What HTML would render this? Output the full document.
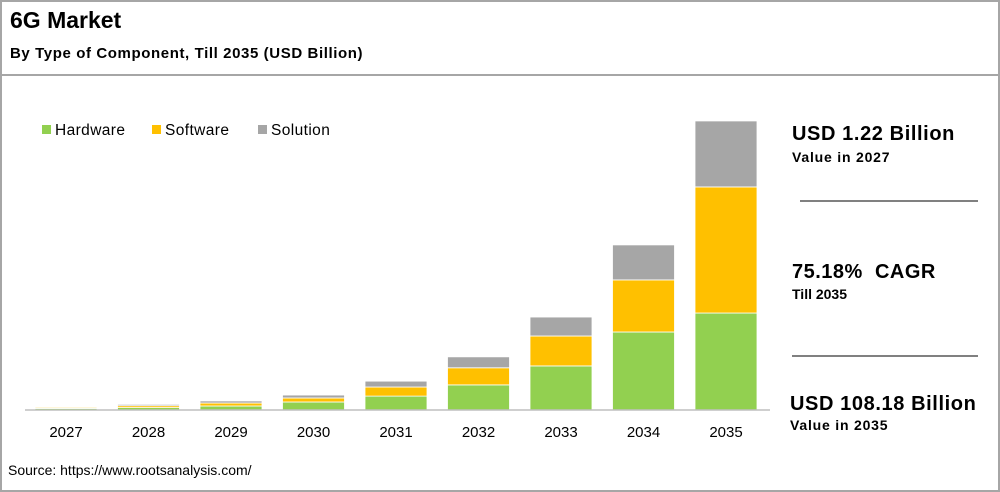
<!DOCTYPE html>
<html><head><meta charset="utf-8"><style>
body{margin:0;width:1000px;height:492px;background:#fff;font-family:"Liberation Sans",Arial,sans-serif;overflow:hidden}
.frame{position:absolute;left:0;top:0;width:996px;height:488px;border:2px solid #a6a6a6}
.t{position:absolute;color:#000;white-space:nowrap}
</style></head><body>
<div class="frame"></div>
<div class="t" style="left:10px;top:7px;font-size:23px;font-weight:bold">6G Market</div>
<div class="t" style="left:10px;top:45px;font-size:15px;font-weight:bold;letter-spacing:0.6px">By Type of Component, Till 2035 (USD Billion)</div>
<div style="position:absolute;left:2px;top:74px;width:996px;height:2px;background:#a6a6a6"></div>
<svg id="chart" width="1000" height="492" style="position:absolute;left:0;top:0"></svg>
<div class="t" style="left:792px;top:123px;font-size:20px;font-weight:bold;letter-spacing:0.6px">USD 1.22 Billion</div>
<div class="t" style="left:792px;top:149px;font-size:14px;font-weight:bold;letter-spacing:0.8px">Value in 2027</div>
<div style="position:absolute;left:800px;top:200px;width:178px;height:2px;background:#808080"></div>
<div class="t" style="left:792px;top:261px;font-size:20px;font-weight:bold;letter-spacing:0.5px">75.18%&nbsp; CAGR</div>
<div class="t" style="left:792px;top:286px;font-size:14px;font-weight:bold">Till 2035</div>
<div style="position:absolute;left:792px;top:355px;width:186px;height:2px;background:#808080"></div>
<div class="t" style="left:790px;top:393px;font-size:20px;font-weight:bold;letter-spacing:0.6px">USD 108.18 Billion</div>
<div class="t" style="left:790px;top:417px;font-size:14px;font-weight:bold;letter-spacing:0.8px">Value in 2035</div>
<div class="t" style="left:8px;top:462px;font-size:14px">Source: https://www.rootsanalysis.com/</div>
<script>
const years=["2027","2028","2029","2030","2031","2032","2033","2034","2035"];
const hardware=[0.6,0.9,1.5,3.0,5.2,9.4,16.5,29.2,36.3];
const software=[0.4,0.7,1.1,1.5,3.4,6.4,11.2,19.5,47.2];
const solution=[0.3,0.5,0.8,1.1,2.2,4.1,7.1,13.1,24.7];
const seriesNames=["Hardware","Software","Solution"];
const colors=["#92d050","#ffc000","#a6a6a6"];
const svg=document.getElementById('chart');const NS="http://www.w3.org/2000/svg";
const base=410,scale=289/108.18,x0=66,step=82.5,bw=62;
const y=v=>base-v*scale;const xc=i=>x0+i*step;
function mk(t,a){const e=document.createElementNS(NS,t);for(const k in a)e.setAttribute(k,a[k]);svg.appendChild(e);return e;}
const all=[hardware,software,solution];
years.forEach((yr,i)=>{let acc=0;all.forEach((s,j)=>{const r=mk('rect',{x:xc(i)-bw/2,y:y(acc+s[i]),width:bw,height:s[i]*scale,fill:colors[j],stroke:'#fff','stroke-width':0.8});

acc+=s[i];});
const t=mk('text',{x:xc(i),y:437,'text-anchor':'middle','font-size':15,'font-family':'Liberation Sans, Arial, sans-serif'});t.textContent=yr;

});
const ax=mk('line',{x1:25,x2:770,y1:base,y2:base,stroke:'#bfbfbf','stroke-width':1.5});


const lx=[42,152,258];
seriesNames.forEach((n,j)=>{const r=mk('rect',{x:lx[j],y:125,width:9,height:9,fill:colors[j]});


const t=mk('text',{x:lx[j]+13,y:135,'font-size':15.5,'letter-spacing':0.4,'font-family':'Liberation Sans, Arial, sans-serif'});t.textContent=n;

});
</script>
</body></html>
